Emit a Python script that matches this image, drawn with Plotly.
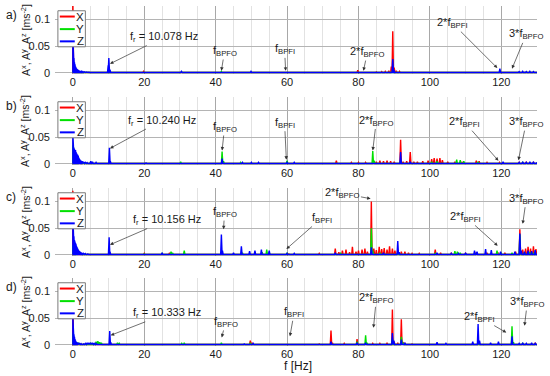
import plotly.graph_objects as go

# ---------------- data (frequency [Hz], amplitude [m/s^2]) ----------------
PANEL_LABELS = ["a)", "b)", "c)", "d)"]
FR_VALUES = ["10.078", "10.240", "10.156", "10.333"]
CHANNELS = ["X", "Y", "Z"]
X_TICKS = [0, 20, 40, 60, 80, 100, 120]
Y_TICKS = [0, 0.05, 0.1]
Y_TICK_TEXT = ["0", "0.05", "0.1"]

A_X = [(0, 0.14), (0.2, 0.008), (0.4, 0.004), (0.7, 0.003), (19.8, 0.003), (41.6, 0.0015),
       (79.8, 0.005), (85, 0.002), (86.5, 0.0025), (87.5, 0.003), (88.5, 0.004), (89.2, 0.012),
       (89.6, 0.078), (90, 0.01), (90.6, 0.004), (91.5, 0.003), (92.5, 0.002), (119.6, 0.002)]
A_Y = [(0, 0.004), (0.3, 0.003), (30.5, 0.002), (41.6, 0.003), (50.2, 0.0015), (89.6, 0.006)]
A_Z = [(0, 0.068), (0.15, 0.04), (0.3, 0.028), (0.45, 0.02), (0.6, 0.016), (0.75, 0.012),
       (0.9, 0.01), (1.05, 0.008), (1.2, 0.007), (1.4, 0.006), (1.6, 0.005), (1.8, 0.004),
       (2.1, 0.0035), (2.4, 0.003), (2.8, 0.0025), (3.2, 0.002), (3.8, 0.0018), (4.5, 0.0015),
       (9.9, 0.014), (10.08, 0.028), (10.4, 0.006), (30.4, 0.003), (41.6, 0.002), (49.9, 0.003),
       (89.6, 0.026), (89.9, 0.006), (119.6, 0.008), (123, 0.002), (125, 0.0025), (126, 0.003),
       (127, 0.0025), (128, 0.003), (129, 0.0025)]

B_X = [(0, 0.013), (0.2, 0.01), (0.4, 0.008), (0.6, 0.006), (0.8, 0.005), (1, 0.004), (1.3, 0.003),
       (1.7, 0.002), (73.8, 0.006), (78, 0.003), (80, 0.003), (82, 0.003), (85, 0.004), (86, 0.006),
       (87, 0.005), (88, 0.006), (89, 0.005), (90, 0.004), (91.8, 0.045), (92.5, 0.004), (93.5, 0.005),
       (94.5, 0.022), (95.5, 0.004), (96.5, 0.004), (98, 0.005), (99.5, 0.006), (100.5, 0.009),
       (101.2, 0.011), (102, 0.01), (102.8, 0.011), (103.5, 0.007), (105, 0.004), (107, 0.004),
       (109, 0.003), (113, 0.006), (113.8, 0.005), (116, 0.003), (119.5, 0.003), (125, 0.003),
       (127, 0.004), (129, 0.003)]
B_Y = [(0, 0.035), (0.2, 0.03), (0.4, 0.022), (0.6, 0.018), (0.8, 0.013), (1, 0.01), (1.3, 0.007),
       (1.6, 0.005), (2, 0.004), (2.5, 0.003), (3, 0.002), (5, 0.004), (30.2, 0.004), (41.8, 0.023),
       (42.2, 0.005), (47, 0.003), (60, 0.006), (84, 0.024), (84.4, 0.006), (91.8, 0.006),
       (100.5, 0.004), (102, 0.005), (107.5, 0.008), (108.5, 0.007), (109.5, 0.005), (113.5, 0.004),
       (120, 0.002), (126, 0.003)]
B_Z = [(0, 0.055), (0.15, 0.035), (0.3, 0.03), (0.45, 0.028), (0.6, 0.025), (0.75, 0.026),
       (0.9, 0.022), (1.05, 0.02), (1.2, 0.018), (1.35, 0.017), (1.5, 0.015), (1.65, 0.012),
       (1.8, 0.01), (2, 0.008), (2.3, 0.006), (2.6, 0.005), (3, 0.004), (3.5, 0.003), (4, 0.0025),
       (5, 0.005), (5.5, 0.004), (6.5, 0.003), (10.24, 0.03), (10.5, 0.005), (20.5, 0.002),
       (41.8, 0.01), (47.5, 0.003), (50, 0.003), (52, 0.003), (60, 0.003), (62, 0.003),
       (91.8, 0.022), (94.5, 0.004), (120.5, 0.004), (125, 0.003), (126, 0.004), (127, 0.003),
       (128, 0.004), (129, 0.004), (130, 0.003)]

C_X = [(0, 0.12), (0.15, 0.01), (0.3, 0.007), (0.5, 0.005), (0.8, 0.004), (1.2, 0.003), (20, 0.003),
       (27, 0.003), (60.5, 0.002), (69, 0.003), (73.5, 0.012), (74.5, 0.005), (75.5, 0.008),
       (76.5, 0.01), (77.5, 0.005), (78.3, 0.015), (79.3, 0.006), (80, 0.008), (81, 0.01),
       (81.8, 0.012), (82.5, 0.006), (83.6, 0.1), (84.3, 0.012), (85, 0.009), (85.8, 0.015),
       (86.5, 0.011), (87.2, 0.013), (88, 0.01), (88.7, 0.016), (89.5, 0.012), (90.2, 0.008),
       (91, 0.009), (92, 0.006), (93, 0.006), (94, 0.004), (95, 0.003), (97, 0.003), (101.5, 0.01),
       (103, 0.004), (106, 0.004), (110, 0.003), (113, 0.005), (116, 0.004), (119, 0.005),
       (121, 0.004), (124, 0.006), (125.2, 0.048), (126, 0.01), (126.8, 0.012), (127.5, 0.015),
       (128.2, 0.012), (129, 0.016), (129.7, 0.011)]
C_Y = [(0, 0.018), (0.2, 0.014), (0.4, 0.01), (0.6, 0.008), (0.9, 0.006), (1.2, 0.005), (1.6, 0.004),
       (2, 0.003), (2.5, 0.002), (20, 0.002), (25, 0.003), (27.5, 0.006), (28, 0.003), (31.2, 0.008),
       (41.6, 0.005), (47.5, 0.004), (53, 0.005), (54.3, 0.01), (55, 0.004), (60, 0.004), (75, 0.003),
       (83.6, 0.05), (84, 0.008), (86, 0.004), (91, 0.004), (101.5, 0.003), (107, 0.007),
       (107.7, 0.006), (108.5, 0.004), (113, 0.003), (118.8, 0.008), (120, 0.003), (123, 0.004),
       (125.2, 0.038), (126.5, 0.004), (128, 0.005), (129, 0.004)]
C_Z = [(0, 0.068), (0.15, 0.045), (0.3, 0.035), (0.45, 0.028), (0.6, 0.025), (0.75, 0.022),
       (0.9, 0.02), (1.05, 0.016), (1.2, 0.014), (1.35, 0.012), (1.5, 0.01), (1.7, 0.008),
       (1.9, 0.007), (2.2, 0.005), (2.5, 0.004), (3, 0.003), (3.5, 0.0025), (4.2, 0.002),
       (10.16, 0.033), (10.4, 0.006), (25, 0.004), (41.6, 0.038), (41.9, 0.008), (45, 0.004),
       (47.2, 0.016), (49.5, 0.007), (51, 0.008), (52.8, 0.01), (55, 0.008), (60, 0.003), (62, 0.003),
       (73.5, 0.004), (83.6, 0.014), (87, 0.004), (91, 0.026), (91.4, 0.005), (102, 0.004),
       (106, 0.003), (108, 0.003), (110, 0.004), (112.5, 0.008), (113.2, 0.006), (115.6, 0.011),
       (117.2, 0.009), (119.8, 0.006), (123.8, 0.006), (125.2, 0.04), (125.6, 0.008), (126.5, 0.006),
       (127.5, 0.008), (128.5, 0.007), (129.5, 0.009)]

D_X = [(0, 0.115), (0.15, 0.006), (0.3, 0.004), (0.6, 0.003), (49.7, 0.008), (50.2, 0.004),
       (69, 0.002), (72.3, 0.027), (72.7, 0.004), (76, 0.003), (79.6, 0.011), (82, 0.003), (84, 0.003),
       (86, 0.003), (88, 0.004), (89.5, 0.066), (90, 0.006), (91, 0.004), (92, 0.048), (92.4, 0.005),
       (93, 0.003), (95, 0.002), (104.5, 0.002), (110, 0.002), (119.5, 0.002), (129.5, 0.004)]
D_Y = [(0, 0.022), (0.2, 0.015), (0.4, 0.01), (0.6, 0.007), (0.9, 0.005), (1.2, 0.004), (1.6, 0.003),
       (5, 0.003), (6.5, 0.006), (7, 0.007), (7.5, 0.005), (8, 0.004), (12.5, 0.004), (13, 0.003),
       (30.5, 0.003), (31.2, 0.004), (41.6, 0.004), (49.7, 0.004), (79.6, 0.006), (82, 0.018),
       (82.4, 0.004), (89.5, 0.012), (92, 0.015), (92.5, 0.004), (113.5, 0.004), (123, 0.035),
       (123.4, 0.005), (126, 0.003)]
D_Z = [(0, 0.052), (0.15, 0.03), (0.3, 0.02), (0.45, 0.015), (0.6, 0.011), (0.75, 0.008),
       (0.9, 0.006), (1.1, 0.005), (1.4, 0.004), (1.8, 0.003), (2.3, 0.0025), (3, 0.002),
       (3.5, 0.003), (4, 0.004), (4.5, 0.004), (5, 0.004), (5.5, 0.004), (6, 0.003), (6.5, 0.003),
       (10.33, 0.026), (10.6, 0.005), (48, 0.002), (50.5, 0.003), (72.3, 0.006), (79.6, 0.004),
       (82, 0.004), (89.5, 0.022), (89.9, 0.008), (92, 0.01), (93, 0.004), (102, 0.005),
       (104.5, 0.003), (112, 0.006), (113.5, 0.039), (113.9, 0.008), (117, 0.004), (119.2, 0.006),
       (123, 0.016), (125, 0.003), (126, 0.004), (127, 0.003), (128.5, 0.004), (129.5, 0.003)]

SERIES = [(A_X, A_Y, A_Z), (B_X, B_Y, B_Z), (C_X, C_Y, C_Z), (D_X, D_Y, D_Z)]

# ---------------- styling / layout ----------------
COLORS = ["#ff0000", "#00e000", "#0000ff"]
FONT = "Liberation Sans, Arial, sans-serif"
TXT = "#1a1a1a"
W, H = 550, 376
X_RANGE = [-5, 130]
Y_RANGE = [-0.002, 0.125]
FLOOR = 0.0008
HALF = 0.2
PLOT_L, PLOT_R = 55, 537
TOPS = [6, 97, 188, 278]
PANEL_H = 68

BPFO, BPFI = "f<sub>BPFO</sub>", "f<sub>BPFI</sub>"
# (text, head x, head y, text x, text y) per panel, in data coordinates
ANNOTS = [
    [("f<sub>r</sub> = " + FR_VALUES[0] + " Hz", 10.4, 0.017, 25.5, 0.067),
     (BPFO, 41.6, 0.004, 42.5, 0.041), (BPFI, 59.6, 0.004, 59.3, 0.044),
     ("2*" + BPFO, 81.4, 0.004, 82.5, 0.039), ("2*" + BPFI, 118.9, 0.009, 106.3, 0.093),
     ("3*" + BPFO, 123, 0.008, 127, 0.072)],
    [("f<sub>r</sub> = " + FR_VALUES[1] + " Hz", 10.4, 0.029, 24.9, 0.081),
     (BPFO, 41.8, 0.025, 42.5, 0.069), (BPFI, 59.8, 0.008, 59.3, 0.077),
     ("2*" + BPFO, 84, 0.025, 85, 0.081), ("2*" + BPFI, 119.2, 0.006, 109.7, 0.078),
     ("3*" + BPFO, 124.8, 0.007, 127, 0.078)],
    [("f<sub>r</sub> = " + FR_VALUES[2] + " Hz", 10.4, 0.019, 26.3, 0.065),
     (BPFO, 42.2, 0.048, 42.5, 0.08), (BPFI, 59.8, 0.011, 69.7, 0.069),
     ("2*" + BPFO, 83.4, 0.105, 75.5, 0.115), ("2*" + BPFI, 119, 0.017, 110, 0.071),
     ("3*" + BPFO, 126, 0.058, 127, 0.105)],
    [("f<sub>r</sub> = " + FR_VALUES[3] + " Hz", 10.6, 0.018, 26.4, 0.059),
     (BPFO, 41.7, 0.014, 42.8, 0.043), (BPFI, 60.8, 0.016, 62, 0.061),
     ("2*" + BPFO, 84.2, 0.032, 85, 0.087), ("2*" + BPFI, 121.4, 0.023, 113.9, 0.052),
     ("3*" + BPFO, 126.5, 0.036, 127.3, 0.08)],
]


def spikes(peaks):
    xs, ys = [0.0], [FLOOR]
    for f, a in sorted(peaks):
        xs += [max(f - HALF, 0.0), f, min(f + HALF, X_RANGE[1])]
        ys += [FLOOR, a, FLOOR]
    xs.append(X_RANGE[1])
    ys.append(FLOOR)
    return xs, ys


fig = go.Figure()
layout = dict(width=W, height=H, margin=dict(l=0, r=0, t=0, b=0, autoexpand=False),
              paper_bgcolor="white", plot_bgcolor="white", showlegend=False,
              font=dict(family=FONT, size=11, color=TXT))
shapes, annotations = [], []

for p in range(4):
    sfx = "" if p == 0 else str(p + 1)
    xa, ya = "x" + sfx, "y" + sfx
    top = TOPS[p]
    bottom = top + PANEL_H
    for c in range(3):
        xs, ys = spikes(SERIES[p][c])
        fig.add_trace(go.Scatter(x=xs, y=ys, mode="lines", name=CHANNELS[c],
                                 line=dict(color=COLORS[c], width=1.4),
                                 xaxis=xa, yaxis=ya, hoverinfo="skip"))
    layout["xaxis" + sfx] = dict(
        domain=[PLOT_L / W, PLOT_R / W], range=X_RANGE, anchor=ya, automargin=False,
        tickmode="array", tickvals=X_TICKS, ticks="", showline=False, zeroline=False,
        showgrid=True, gridcolor="#a8a8a8", gridwidth=1,
        minor=dict(tickmode="linear", tick0=0, dtick=5, showgrid=True, gridcolor="#e2e2e2", gridwidth=1),
        tickfont=dict(size=11, color=TXT, family=FONT))
    layout["yaxis" + sfx] = dict(
        domain=[1 - bottom / H, 1 - top / H], range=Y_RANGE, anchor=xa, automargin=False,
        tickmode="array", tickvals=Y_TICKS, ticktext=Y_TICK_TEXT, ticks="",
        showline=False, zeroline=False, showgrid=True, gridcolor="#b4b4b4", gridwidth=1,
        ticklabelstandoff=4, tickfont=dict(size=11, color=TXT, family=FONT))

    # manual compact legend
    dref_x, dref_y = xa + " domain", ya + " domain"
    shapes.append(dict(type="rect", xref=dref_x, yref=dref_y, x0=0.006, x1=0.063, y0=0.40, y1=0.93,
                       line=dict(color="#7a7a7a", width=1), fillcolor="white", layer="above"))
    for c in range(3):
        yc = [0.845, 0.66, 0.48][c]
        shapes.append(dict(type="line", xref=dref_x, yref=dref_y, x0=0.010, x1=0.041, y0=yc, y1=yc,
                           line=dict(color=COLORS[c], width=2), layer="above"))
        annotations.append(dict(text=CHANNELS[c], xref=dref_x, yref=dref_y, x=0.052, y=yc,
                                xanchor="center", yanchor="middle", showarrow=False,
                                font=dict(size=11.5, color=TXT, family=FONT)))

    # y-axis title and panel label
    annotations.append(dict(text="A<sup>x</sup>, A<sup>y</sup>, A<sup>z</sup> [ms<sup>-2</sup>]",
                            xref="paper", yref="paper", x=25 / W, y=1 - (top + 34) / H,
                            textangle=-90, showarrow=False, xanchor="center", yanchor="middle",
                            font=dict(size=10.5, color=TXT, family=FONT)))
    annotations.append(dict(text=PANEL_LABELS[p], xref="paper", yref="paper", x=11 / W,
                            y=1 - (top + 9) / H, showarrow=False, xanchor="center", yanchor="middle",
                            font=dict(size=12, color=TXT, family=FONT)))

    for text, hx, hy, tx, ty in ANNOTS[p]:
        annotations.append(dict(text=text, x=hx, y=hy, ax=tx, ay=ty, xref=xa, yref=ya,
                                axref=xa, ayref=ya, showarrow=True, arrowhead=2, arrowsize=1,
                                arrowwidth=0.7, arrowcolor="#333333", standoff=0, startstandoff=0,
                                font=dict(size=11, color=TXT, family=FONT)))

annotations.append(dict(text="f [Hz]", xref="paper", yref="paper", x=298 / W, y=1 - 366 / H,
                        showarrow=False, xanchor="center", yanchor="middle",
                        font=dict(size=12, color=TXT, family=FONT)))

layout["shapes"] = shapes
layout["annotations"] = annotations
fig.update_layout(**layout)
fig.write_html("out.html", config={"displayModeBar": False},
               post_script="document.body.style.margin='0';document.body.style.overflow='hidden';")
